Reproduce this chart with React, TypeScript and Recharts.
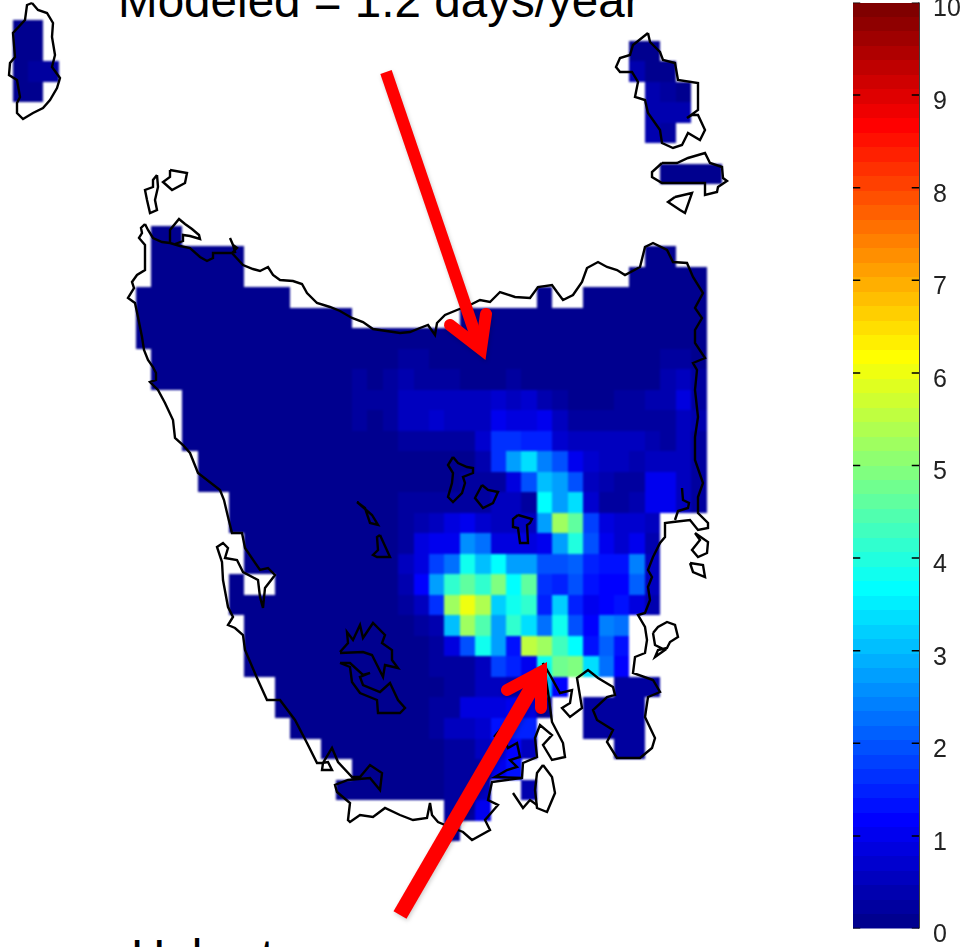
import React from 'react';
import { ScatterChart, Scatter, XAxis, YAxis } from 'recharts';

// ---- modelled days/year on the model grid: [row, firstCol, lastCol] is land at ~0
const landRuns: number[][] = [
  [-10,-8,-7],[-9,-8,-7],[-8,-8,-6],[-7,-8,-7],
  [-9,32,33],[-8,32,34],[-7,33,35],[-6,33,35],[-5,33,34],[-3,34,37],
  [0,1,2],[1,1,6],[1,33,34],[2,1,6],[2,32,36],[3,0,9],[3,26,26],[3,29,36],
  [4,0,13],[4,21,36],[5,0,36],[6,1,36],[7,1,36],[8,3,36],[9,3,36],[10,3,36],
  [11,4,36],[12,4,36],[13,6,36],[14,6,33],[15,7,33],[16,7,33],[17,6,6],[17,9,33],
  [18,6,33],[19,7,31],[20,7,31],[21,7,31],[22,9,27],[22,31,33],[23,9,26],[23,29,32],
  [24,10,25],[24,29,32],[25,12,25],[25,31,32],[26,14,24],[27,13,22],[27,25,25],
  [28,20,22],[29,20,20],
];
// [row, firstCol, ...values]
const valueRows: number[][] = [
  [-8,-7,0.2,0.2],
  [-8,32,0.35,0.1,0.1],[-7,33,0.35,0.2,0.1],[-6,33,0.35,0.45,0.45],[-5,33,0.35,0.2],
  [6,17,0.3,0.25],[6,34,0.2,0.25],
  [7,14,0.2,0.1,0.2,0.4,0.3,0.3,0.2],[7,24,0.2],[7,34,0.4,0.5,0.2],
  [8,14,0.2,0.2,0.3,0.6,0.5,0.5,0.5,0.5,0.5,0.7,0.5,0.7,0.4,0.2,0.1,0.1,0.1,0.3,0.3,0.4,0.4,0.8,0.3],
  [9,14,0.2,0.1,0.2,0.6,0.5,0.7,0.5,0.5,0.6,1,0.8,0.8,1.05,0.5,0.2,0.2,0.2,0.2,0.25,0.3,0.3,0.5,0.4],
  [10,14,0.1,0.1,0.1,0.2,0.2,0.3,0.2,0.25,0.7,1.7,1.6,1.5,1.5,0.7,0.5,0.5,0.5,0.5,0.5,0.4,0.3,0.5,0.3],
  [11,22,0.35,1.6,2.8,3.3,2.5,1.9,1,0.7,0.6,0.6,0.4,0.6,0.6,0.5,0.3],
  [12,21,0.2,0.2,0.3,0.9,2,3,2.7,2,0.5,0.4,0.3,0.3,1,1,0.5,0.3],
  [13,17,0.2,0.3,0.3,0.3,0.3,0.3,0.5,0.6,0.3,3.7,2.7,3.4,0.7,0.3,0.3,0.4,1,1.05,0.5,0.3],
  [14,17,0.2,0.4,0.6,0.8,1,0.7,0.6,0.5,0.5,2.8,5.2,4.6,1.8,0.8,0.7,0.7,0.5],
  [15,16,0.1,0.3,0.8,1,1,2.6,2.2,0.9,0.9,0.9,1,2.8,4,2,1,0.7,1,0.4],
  [16,16,0.15,0.5,0.9,1.8,2.2,3.9,3.1,3.6,2.7,2.7,1.9,1.9,2.1,1.5,1.3,1.3,2.4,0.5],
  [17,16,0.1,0.4,1.2,2.7,4.1,4.6,4.2,5,3.7,4.6,1.7,1.5,1.9,1.4,1.2,1.2,2.1,0.5],
  [18,16,0.1,0.3,0.5,1.7,5.3,6,5.4,3.2,3.9,4.1,1.5,3.2,1.5,1,1.2,1.3,0.9,0.4],
  [19,17,0.1,0.2,0.4,3.1,5.3,4.5,2.8,4.2,3.3,2.2,3.9,2,1.2,2.5,2.3],
  [20,17,0.1,0.1,0.2,0.8,2,3.8,2.7,1.3,5.6,5.2,4.3,3.7,1.3,2.1,1.4],
  [21,17,0.1,0.1,0.2,0.3,0.3,0.6,1.8,1.5,1,3.9,4.8,4.9,3.4,2.3,1.1],
  [22,17,0.1,0.1,0.1,0.2,0.3,0.5,0.5,0.4,0.4,3,1.2],[22,31,0.3,0.3,0.3],
  [23,19,0.2,0.3,0.9,0.8,0.8,1,0.9,0.3],[23,29,0.2,0.2,0.3,0.3],
  [24,19,0.3,0.5,0.6,0.7,1.3,1.5,1.5],[24,29,0.2,0.2,0.3,0.3],
  [25,20,0.2,0.3,0.5,0.9,1.2,0.5],[25,31,0.3,0.3],
  [26,20,0.2,0.2,0.3,1,1.3],
  [27,20,0.2,0.3,0.6],[27,25,0.4],
  [28,20,0.2,0.3,1],[29,20,0.3],
];

const mainCoast = [145,224,148,230,153,238,162,242,170,243,180,246,190,248,200,257,207,261,213,258,213,253,230,253,235,252,233,245,230,238,233,245,237,248,232,253,243,265,253,269,260,271,268,267,273,275,280,280,293,281,302,284,307,293,317,303,330,307,340,311,352,318,363,322,373,329,400,333,410,332,420,328,428,325,435,335,437,323,445,315,457,310,470,305,480,300,490,302,500,292,515,297,530,298,538,287,552,285,557,292,563,300,573,295,582,282,587,268,598,262,607,267,617,270,625,275,640,267,645,247,653,243,667,250,673,262,687,263,693,277,703,293,695,308,702,318,695,330,695,343,705,358,693,363,697,370,695,390,698,417,695,437,695,460,703,483,698,497,698,513,708,523,708,528,698,530,690,520,673,522,665,523,665,537,660,543,653,557,648,570,652,577,648,587,650,600,645,613,638,615,645,627,647,640,645,653,635,657,633,673,653,680,660,692,648,697,645,717,655,738,652,748,640,758,617,758,607,742,613,730,597,720,593,710,607,697,615,695,613,687,598,678,588,670,577,678,582,708,570,717,562,708,570,703,572,690,560,693,550,675,543,663,548,692,552,722,563,743,565,757,552,760,543,745,552,735,540,725,535,738,537,757,523,763,522,778,492,782,488,800,498,805,485,820,490,830,472,840,463,832,445,825,438,822,432,815,430,803,427,818,413,820,400,815,385,808,373,817,360,815,350,822,348,820,350,803,337,792,335,785,348,780,370,778,380,790,382,773,370,765,360,777,352,777,338,762,332,748,323,763,322,770,332,770,328,762,322,763,317,763,307,743,295,720,280,700,267,700,257,678,245,650,243,635,235,628,228,625,233,617,228,607,223,580,222,562,217,547,223,543,228,548,225,558,237,560,243,572,258,580,260,597,263,608,265,588,275,575,268,568,260,570,245,548,242,533,232,533,228,517,224,500,220,490,198,473,190,453,183,445,175,438,173,420,165,403,158,390,150,382,156,380,156,373,153,367,148,360,144,350,142,337,138,317,135,303,128,298,134,288,132,282,137,275,145,270,145,245,139,238,142,233,141,228,145,224];
const hunterIsland = [170,242,170,230,179,219,185,224,192,229,199,235,200,239,190,236,183,235,183,241,175,244];
const smallNorthWest = [157,175,158,187,155,200,157,210,150,213,147,200,145,190,153,187,153,180,157,175];
const threeHummock = [170,170,187,173,185,183,172,190,163,182,170,177,170,170];
const kingIsland = [32,3,38,10,47,13,53,23,52,37,55,55,52,67,60,78,57,88,50,100,43,108,33,113,23,119,17,113,17,103,20,97,17,80,9,75,10,63,15,57,13,33,25,20,27,5,32,3];
const flindersIsland = [648,33,650,42,660,52,663,60,675,63,678,80,698,83,698,110,687,118,692,115,698,115,705,130,700,140,688,133,682,145,673,148,662,143,660,130,648,113,645,100,635,97,638,82,632,72,620,72,616,67,620,58,630,55,633,45,648,33];
const capeBarren = [662,163,677,163,688,158,705,153,710,163,722,167,723,178,727,181,718,187,717,192,705,195,705,183,690,183,682,183,662,183,652,177,652,172,662,163];
const clarkeIsland = [675,197,692,193,685,213,680,210,668,202,675,197];
const mariaIsland = [653,633,658,627,667,622,675,625,678,637,670,642,667,648,658,650,655,657,665,650,655,645,653,633];
const brunyIsland = [543,765,552,777,555,793,547,812,537,808,535,790,537,773,543,765];
const brunyTail = [513,793,523,808,530,800,537,805];
const southInlet = [494,737,500,730,508,748,517,743,520,757,510,760,517,767,507,770,495,777,522,778];
const freycinetBay = [682,488,683,500,689,503,688,508,678,511,675,520];
const eastIsletA = [695,533,708,542,707,553,698,557,692,550,700,540,695,533];
const eastIsletB = [690,563,703,565,705,577,693,572,690,563];
const lakeA = [453,457,458,463,467,467,473,468,473,473,463,477,465,483,462,493,453,502,448,497,452,483,453,473,448,465,453,457];
const lakeB = [482,485,488,490,498,492,493,503,483,508,475,498,482,485];
const lakeC = [518,515,532,519,530,523,527,525,528,543,520,543,518,528,513,527,513,519,518,515];
const lakeD = [357,502,372,515,378,525,370,523,365,508,357,502];
const lakeE = [380,535,390,557,377,557,373,555,378,550,377,537,380,535];
const lakePedderN = [340,652,348,643,347,632,353,640,360,625,363,638,373,623,385,635,382,643,392,650,392,660,398,668,385,665,383,677,372,655,363,652,340,653];
const lakePedderS = [340,663,350,667,352,682,360,693,377,700,378,713,400,713,405,708,398,700,390,683,380,692,363,685,360,677,370,673,363,675,350,663,340,663];
const coastlines = [mainCoast,hunterIsland,smallNorthWest,threeHummock,kingIsland,flindersIsland,capeBarren,clarkeIsland,mariaIsland,brunyIsland,brunyTail,southInlet,freycinetBay,eastIsletA,eastIsletB,lakeA,lakeB,lakeC,lakeD,lakeE,lakePedderN,lakePedderS];

// ---- annotation arrows
const arrowNorth = [386,72,480,348];
const arrowNorthHead = [450,325,481,349,486,314];
const arrowSouth = [400,915,541,672];
const arrowSouthHead = [507,690,541,672,541,708];

// ---- text
const titleText = 'Modeled = 1.2 days/year';
const placeText = 'Hobart';
const colorTicks = [0,1,2,3,4,5,6,7,8,9,10];
const colorLevels = [1,2,3,4,5,6,7,8,9,10,11,12,13,14,15,16,17,18,19,20,21,22,23,24,25,26,27,28,29,30,31,32,33,34,35,36,37,38,39,40,41,42,43,44,45,46,47,48,49,50,51,52,53,54,55,56,57,58,59,60,61,62,63,64];

// ---- layout
const W = 969, H = 947;
const CW = 15.42, CH = 20.52, OX = 136, OY = 225.5;
const gx = (px: number) => (px - OX) / CW;
const gy = (py: number) => (py - OY) / CH;

function jetLevel(i: number) {
  const v = i / 64;
  const c = (t: number) => Math.round(255 * Math.max(0, Math.min(1, t)));
  return `rgb(${c(Math.min(4 * v - 1.5, -4 * v + 4.5))},${c(Math.min(4 * v - 0.5, -4 * v + 3.5))},${c(Math.min(4 * v + 0.5, -4 * v + 2.5))})`;
}
const jet = (val: number) => jetLevel(Math.max(1, Math.min(64, Math.ceil((val / 10) * 64))));

const cellMap = new Map<string, number>();
landRuns.forEach(([r, a, b]) => { for (let c = a; c <= b; c++) cellMap.set(`${r},${c}`, 0); });
valueRows.forEach(([r, c0, ...vals]) => vals.forEach((v, i) => {
  if (cellMap.has(`${r},${c0 + i}`)) cellMap.set(`${r},${c0 + i}`, v);
}));
const cells = Array.from(cellMap.entries()).map(([k, v]) => {
  const [r, c] = k.split(',').map(Number);
  return { x: c + 0.5, y: r + 0.5, v };
});
const toPts = (flat: number[]) => {
  const out: { x: number; y: number }[] = [];
  for (let i = 0; i < flat.length; i += 2) out.push({ x: gx(flat[i]), y: gy(flat[i + 1]) });
  return out;
};

const xDomain = [gx(0), gx(W)];
const yDomain = [gy(0), gy(H)];

const CellShape = (p: any) => {
  const x0 = Math.round(p.cx - CW / 2), x1 = Math.round(p.cx + CW / 2);
  const y0 = Math.round(p.cy - CH / 2), y1 = Math.round(p.cy + CH / 2);
  return <rect x={x0} y={y0} width={x1 - x0} height={y1 - y0} fill={jet(p.payload.v)} shapeRendering="crispEdges" />;
};
const NoDot = () => <g />;
const TextShape = (p: any) => (
  <text x={p.cx} y={p.cy} fontFamily="Liberation Sans, Arial, sans-serif" fontSize={47.6} fill="#000">{p.payload.label}</text>
);

const layer: React.CSSProperties = { position: 'absolute', left: 0, top: 0 };

const BAR_H = 926, BAR_W = 66, BAR_X = 853, BAR_TOP = 2.5;
const bandData = colorLevels.map((l) => ({ x: 0.5, y: ((l - 0.5) / 64) * 10, l }));
const BandShape = (p: any) => {
  const y0 = Math.round(p.cy - BAR_H / 128), y1 = Math.round(p.cy + BAR_H / 128);
  return <rect x={p.cx - BAR_W / 2} y={y0} width={BAR_W} height={y1 - y0} fill={jetLevel(p.payload.l)} shapeRendering="crispEdges" />;
};

export default function App() {
  return (
    <div style={{ position: 'absolute', left: 0, top: 0, width: W, height: H, overflow: 'hidden', background: '#fff' }}>
      <div style={{ ...layer, filter: 'blur(0.8px)' }}>
        <ScatterChart width={W} height={H} margin={{ top: 0, right: 0, bottom: 0, left: 0 }}>
          <XAxis type="number" dataKey="x" domain={xDomain} hide allowDataOverflow />
          <YAxis type="number" dataKey="y" domain={yDomain} reversed hide allowDataOverflow />
          <Scatter data={cells} shape={CellShape} isAnimationActive={false} />
        </ScatterChart>
      </div>
      <div style={{ ...layer, filter: 'blur(0.45px)' }}>
        <ScatterChart width={W} height={H} margin={{ top: 0, right: 0, bottom: 0, left: 0 }}>
          <XAxis type="number" dataKey="x" domain={xDomain} hide allowDataOverflow />
          <YAxis type="number" dataKey="y" domain={yDomain} reversed hide allowDataOverflow />
          {coastlines.map((c, i) => (
            <Scatter key={i} data={toPts(c)} shape={NoDot} line={{ stroke: '#000', strokeWidth: 2.4 }} isAnimationActive={false} />
          ))}
        </ScatterChart>
      </div>
      <div style={{ ...layer, left: BAR_X, filter: 'blur(0.7px)' }}>
        <ScatterChart width={W - BAR_X} height={H} margin={{ top: BAR_TOP, right: 0, bottom: H - BAR_TOP - BAR_H, left: 0 }}>
          <XAxis type="number" dataKey="x" domain={[0, 1]} hide allowDataOverflow />
          <YAxis
            type="number" dataKey="y" domain={[0, 10]} ticks={colorTicks} interval={0} orientation="right" width={W - BAR_X - BAR_W}
            allowDataOverflow tickLine={false} axisLine={{ stroke: '#000', strokeWidth: 1.5 }} tickMargin={8}
            tick={{ fill: '#222', fontSize: 25, fontFamily: 'Liberation Sans, Arial, sans-serif', dy: 5 }}
          />
          <Scatter data={bandData} shape={BandShape} isAnimationActive={false} />
          {colorTicks.map((t) => (
            <Scatter key={`l${t}`} data={[{ x: 0, y: t }, { x: 0.11, y: t }]} shape={NoDot} line={{ stroke: '#000', strokeWidth: 1.5 }} isAnimationActive={false} />
          ))}
          {colorTicks.map((t) => (
            <Scatter key={`r${t}`} data={[{ x: 0.89, y: t }, { x: 1, y: t }]} shape={NoDot} line={{ stroke: '#000', strokeWidth: 1.5 }} isAnimationActive={false} />
          ))}
        </ScatterChart>
      </div>
      <div style={{ ...layer, filter: 'drop-shadow(1px 2px 2px rgba(0,0,0,0.2))' }}>
        <ScatterChart width={W} height={H} margin={{ top: 0, right: 0, bottom: 0, left: 0 }}>
          <XAxis type="number" dataKey="x" domain={xDomain} hide allowDataOverflow />
          <YAxis type="number" dataKey="y" domain={yDomain} reversed hide allowDataOverflow />
          <Scatter data={toPts(arrowNorth)} shape={NoDot} line={{ stroke: '#f00', strokeWidth: 12 }} isAnimationActive={false} />
          <Scatter data={toPts(arrowNorthHead)} shape={NoDot} line={{ stroke: '#f00', strokeWidth: 12, strokeLinecap: 'round', strokeLinejoin: 'miter' }} isAnimationActive={false} />
          <Scatter data={toPts(arrowSouth)} shape={NoDot} line={{ stroke: '#f00', strokeWidth: 15 }} isAnimationActive={false} />
          <Scatter data={toPts(arrowSouthHead)} shape={NoDot} line={{ stroke: '#f00', strokeWidth: 12, strokeLinecap: 'round', strokeLinejoin: 'miter' }} isAnimationActive={false} />
        </ScatterChart>
      </div>
      <div style={layer}>
        <ScatterChart width={W} height={H} margin={{ top: 0, right: 0, bottom: 0, left: 0 }}>
          <XAxis type="number" dataKey="x" domain={xDomain} hide allowDataOverflow />
          <YAxis type="number" dataKey="y" domain={yDomain} reversed hide allowDataOverflow />
          <Scatter data={[{ x: gx(118), y: gy(17), label: titleText }]} shape={TextShape} isAnimationActive={false} />
          <Scatter data={[{ x: gx(131), y: gy(973), label: placeText }]} shape={TextShape} isAnimationActive={false} />
        </ScatterChart>
      </div>
    </div>
  );
}
